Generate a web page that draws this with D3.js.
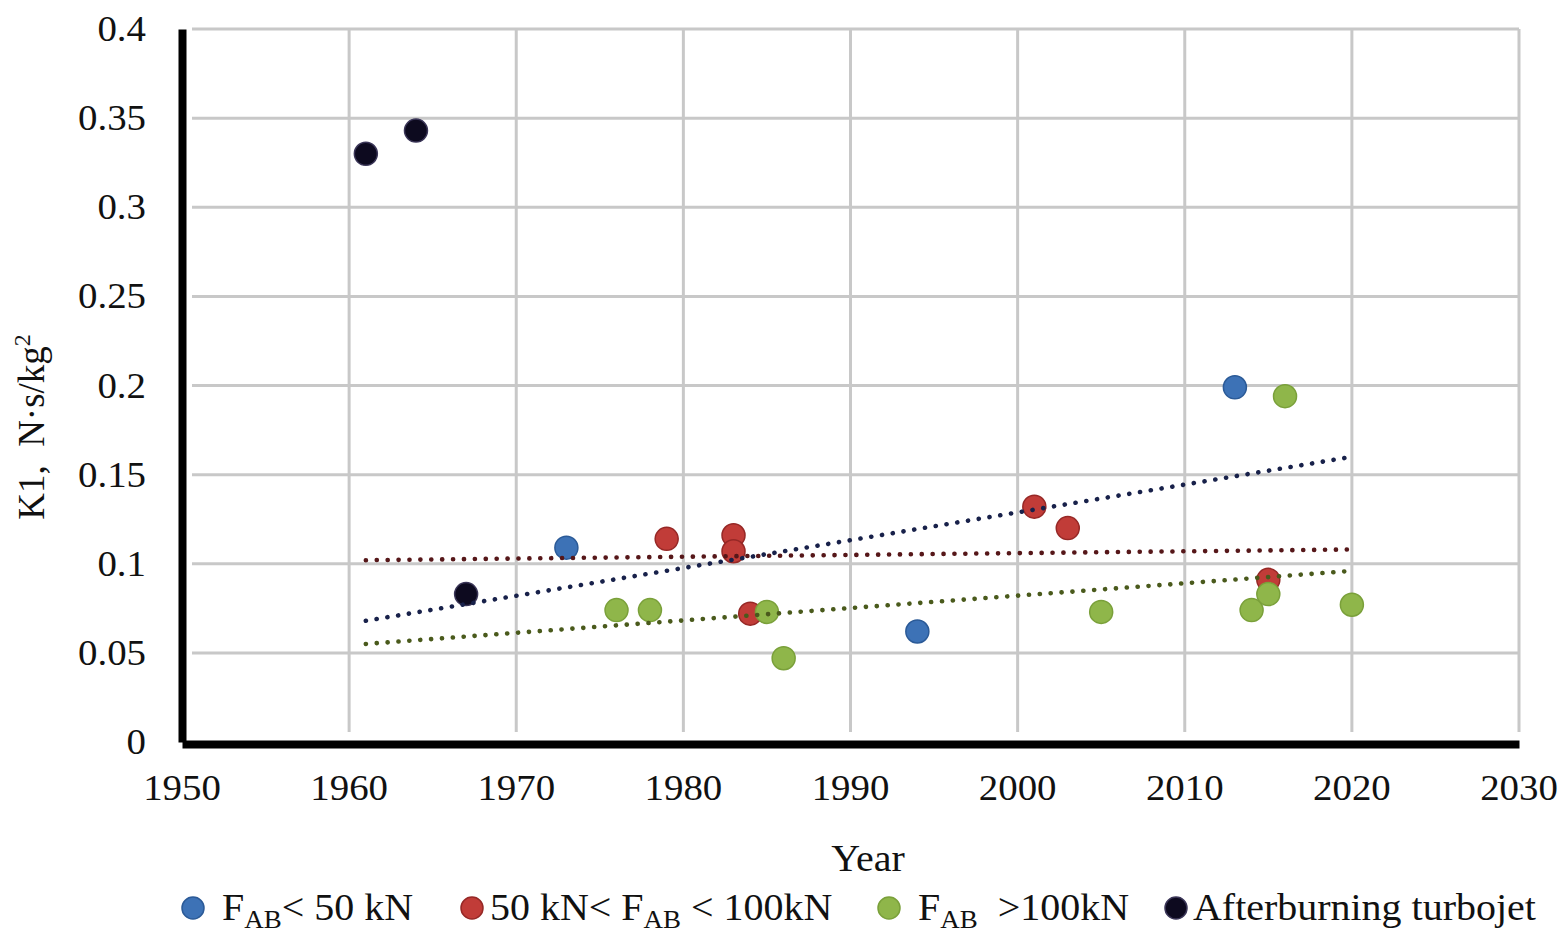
<!DOCTYPE html>
<html><head><meta charset="utf-8">
<script src="https://cdn.jsdelivr.net/npm/d3@7"></script>
<style>body{margin:0;background:#fff}text{font-family:"Liberation Serif","Times New Roman",serif;fill:#111}</style>
</head><body>
<svg id="c" width="1568" height="948"></svg>
<script>
// ---- data ----
const xTicks = [1950, 1960, 1970, 1980, 1990, 2000, 2010, 2020, 2030];
const yTicks = [0, 0.05, 0.1, 0.15, 0.2, 0.25, 0.3, 0.35, 0.4];
const yTickLabels = ["0", "0.05", "0.1", "0.15", "0.2", "0.25", "0.3", "0.35", "0.4"];

const blueYears = [1973, 1994, 2013];
const blueK = [0.109, 0.062, 0.199];
const redYears = [1979, 1983, 1983, 1984, 2001, 2003, 2015];
const redK = [0.114, 0.116, 0.107, 0.072, 0.132, 0.120, 0.091];
const greenYears = [1976, 1978, 1985, 1986, 2005, 2014, 2015, 2016, 2020];
const greenK = [0.074, 0.074, 0.073, 0.047, 0.073, 0.074, 0.083, 0.194, 0.077];
const blackYears = [1961, 1964, 1967];
const blackK = [0.330, 0.343, 0.083];

const trendYears = [1961, 2020];
const blueTrend = [0.068, 0.160];
const redTrend = [0.102, 0.108];
const greenTrend = [0.055, 0.096];

const series = [
  {years: blueYears, k: blueK, fill: "#3d72b6", stroke: "#2b5a97", trend: blueTrend, trendColor: "#18214a"},
  {years: redYears, k: redK, fill: "#c13c38", stroke: "#962826", trend: redTrend, trendColor: "#561719"},
  {years: greenYears, k: greenK, fill: "#8fb64a", stroke: "#7aa03a", trend: greenTrend, trendColor: "#4a5a1c"},
  {years: blackYears, k: blackK, fill: "#0d0a1f", stroke: "#3b3658", trend: null}
];

// ---- drawing ----
const svg = d3.select("#c");
const x = d3.scaleLinear().domain([1950, 2030]).range([182, 1519]);
const y = d3.scaleLinear().domain([0, 0.4]).range([742, 29]);
const SX = 1.08;

function txt(g, px, py, anchor, size) {
  return g.append("text")
    .attr("transform", `translate(${px},${py}) scale(${SX},1)`)
    .attr("text-anchor", anchor)
    .attr("font-size", size);
}

// grid
const grid = svg.append("g");
grid.selectAll("line.h").data(yTicks.slice(1)).join("line")
  .attr("x1", x(1950) + 10).attr("x2", x(2030))
  .attr("y1", d => y(d)).attr("y2", d => y(d))
  .attr("stroke", "#c8c8c8").attr("stroke-width", 3);
grid.selectAll("line.v").data(xTicks.slice(1)).join("line")
  .attr("x1", d => x(d)).attr("x2", d => x(d))
  .attr("y1", y(0.4)).attr("y2", y(0) - 10)
  .attr("stroke", "#c8c8c8").attr("stroke-width", 3);

// axes (thick black)
const xAxis = d3.axisBottom(x).tickValues(xTicks).tickSize(0).tickFormat(d3.format("d"));
const gx = svg.append("g").attr("transform", `translate(0,${y(0) + 2})`).call(xAxis);
gx.select(".domain").attr("stroke", "#000").attr("stroke-width", 8);
gx.selectAll(".tick text").remove();
const yAxis = d3.axisLeft(y).tickValues(yTicks).tickSize(0);
const gy = svg.append("g").attr("transform", `translate(${x(1950)},0)`).call(yAxis);
gy.select(".domain").attr("stroke", "#000").attr("stroke-width", 8);
gy.selectAll(".tick text").remove();

// tick labels
const labels = svg.append("g");
xTicks.forEach(t => txt(labels, x(t), 800, "middle", 36).text(t));
yTicks.forEach((t, i) => txt(labels, 146, y(t) + 12, "end", 36).text(yTickLabels[i]));

// axis titles
txt(labels, 868, 871, "middle", 37).text("Year");
const yl = labels.append("text")
  .attr("transform", `translate(44,427) rotate(-90)`)
  .attr("text-anchor", "middle").attr("font-size", 37)
  .style("white-space", "pre");
yl.append("tspan").text("K1,  N·s/kg");
yl.append("tspan").attr("font-size", 24).attr("dy", -14).text("2");

// markers
const marks = svg.append("g");
series.forEach(s => {
  marks.selectAll(null).data(s.years.map((yr, i) => [yr, s.k[i]])).join("circle")
    .attr("cx", d => x(d[0])).attr("cy", d => y(d[1])).attr("r", 11.5)
    .attr("fill", s.fill).attr("stroke", s.stroke).attr("stroke-width", 1.5);
});

// trend lines (dotted), on top of markers
const line = d3.line().x(d => x(d[0])).y(d => y(d[1]));
series.filter(s => s.trend).forEach(s => {
  svg.append("path")
    .attr("d", line(trendYears.map((yr, i) => [yr, s.trend[i]])))
    .attr("fill", "none").attr("stroke", s.trendColor)
    .attr("stroke-width", 4.6).attr("stroke-linecap", "round")
    .attr("stroke-dasharray", "0.1 10.8");
});

// legend
const leg = svg.append("g");
const legY = 908;
const legItems = [
  {cx: 193, tx: 222, s: series[0], parts: [["F", 0], ["AB", 1], ["< 50 kN", 0]]},
  {cx: 472, tx: 490, s: series[1], parts: [["50 kN< F", 0], ["AB", 1], [" < 100kN", 0]]},
  {cx: 889, tx: 918, s: series[2], parts: [["F", 0], ["AB", 1], ["  >100kN", 0]]},
  {cx: 1176, tx: 1193, s: series[3], parts: [["Afterburning turbojet", 0]]}
];
legItems.forEach(it => {
  leg.append("circle").attr("cx", it.cx).attr("cy", legY).attr("r", 11)
    .attr("fill", it.s.fill).attr("stroke", it.s.stroke).attr("stroke-width", 1.5);
  const t = txt(leg, it.tx, legY + 12, "start", 37).style("white-space", "pre");
  let shifted = false;
  it.parts.forEach(([str, sub]) => {
    const sp = t.append("tspan").text(str);
    if (sub) { sp.attr("font-size", 25).attr("dy", 8); shifted = true; }
    else if (shifted) { sp.attr("dy", -8); shifted = false; }
  });
});
</script>
</body></html>
